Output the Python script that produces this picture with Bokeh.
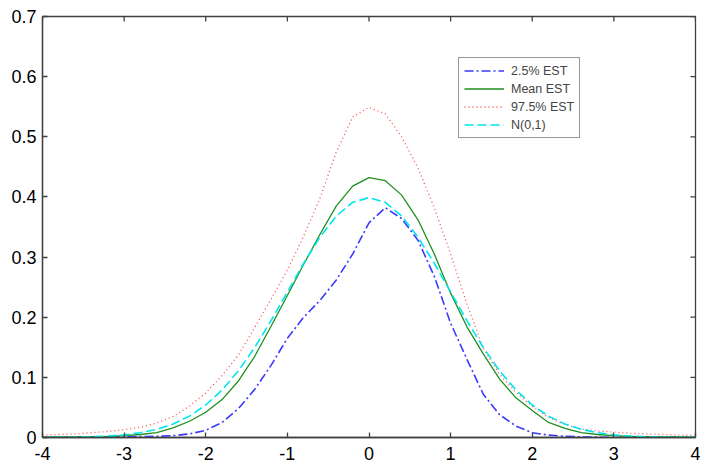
from bokeh.plotting import figure
from bokeh.models import FixedTicker, Range1d
from bokeh.embed import file_html
from bokeh.resources import INLINE

x_grid = [-4.0, -3.8, -3.6, -3.4, -3.2, -3.0, -2.8, -2.6, -2.4, -2.2, -2.0,
          -1.8, -1.6, -1.4, -1.2, -1.0, -0.8, -0.6, -0.4, -0.2, 0.0,
          0.2, 0.4, 0.6, 0.8, 1.0, 1.2, 1.4, 1.6, 1.8, 2.0,
          2.2, 2.4, 2.6, 2.8, 3.0, 3.2, 3.4, 3.6, 3.8, 4.0]

est_025 = [0.0, 0.0, 0.0005, 0.0005, 0.001, 0.001, 0.0015, 0.002, 0.003, 0.006, 0.012,
           0.025, 0.048, 0.080, 0.120, 0.165, 0.200, 0.228, 0.262, 0.305, 0.357,
           0.382, 0.364, 0.328, 0.268, 0.190, 0.130, 0.072, 0.038, 0.019, 0.008,
           0.004, 0.002, 0.001, 0.0005, 0.0, 0.0, 0.0, 0.0, 0.0, 0.0]

est_mean = [0.0005, 0.0008, 0.001, 0.0015, 0.002, 0.003, 0.005, 0.008, 0.016, 0.027, 0.042,
            0.063, 0.094, 0.135, 0.185, 0.236, 0.288, 0.338, 0.385, 0.418, 0.432,
            0.427, 0.403, 0.362, 0.305, 0.240, 0.184, 0.139, 0.097, 0.066, 0.045,
            0.025, 0.015, 0.008, 0.005, 0.003, 0.002, 0.0015, 0.001, 0.0008, 0.0005]

est_975 = [0.004, 0.005, 0.006, 0.008, 0.010, 0.013, 0.017, 0.024, 0.035, 0.052, 0.074,
           0.103, 0.137, 0.183, 0.230, 0.278, 0.335, 0.398, 0.475, 0.533, 0.549,
           0.538, 0.500, 0.448, 0.382, 0.305, 0.222, 0.148, 0.105, 0.075, 0.052,
           0.033, 0.022, 0.014, 0.011, 0.009, 0.007, 0.006, 0.005, 0.004, 0.004]

normal_01 = [0.0001, 0.0003, 0.0006, 0.0012, 0.0024, 0.0044, 0.0079, 0.0136, 0.0224, 0.0355, 0.0540,
             0.0790, 0.1109, 0.1497, 0.1942, 0.2420, 0.2897, 0.3332, 0.3683, 0.3910, 0.3989,
             0.3910, 0.3683, 0.3332, 0.2897, 0.2420, 0.1942, 0.1497, 0.1109, 0.0790, 0.0540,
             0.0355, 0.0224, 0.0136, 0.0079, 0.0044, 0.0024, 0.0012, 0.0006, 0.0003, 0.0001]

x_ticks = [-4, -3, -2, -1, 0, 1, 2, 3, 4]
y_ticks = [0, 0.1, 0.2, 0.3, 0.4, 0.5, 0.6, 0.7]

FONT = "Liberation Sans"
AX = "#404040"
X0, X1, Y0, Y1 = -4, 4, 0, 0.7
FW, FH = 653, 421

p = figure(width=700, height=465, output_backend="svg", toolbar_location=None,
           x_range=Range1d(X0, X1), y_range=Range1d(Y0, Y1),
           frame_width=FW, frame_height=FH,
           min_border_left=42, min_border_top=16, min_border_right=5, min_border_bottom=28)
p.grid.visible = False
p.outline_line_color = AX
p.outline_line_width = 1.3
p.background_fill_color = "white"
p.border_fill_color = "white"

for ax in (p.xaxis[0], p.yaxis[0]):
    ax.major_tick_in = 5
    ax.major_tick_out = 0
    ax.minor_tick_in = 0
    ax.minor_tick_out = 0
    ax.axis_line_color = AX
    ax.axis_line_width = 1.3
    ax.major_tick_line_color = AX
    ax.major_tick_line_width = 1.3
    ax.major_label_text_font = FONT
    ax.major_label_text_font_size = "18px"
    ax.major_label_text_color = "black"

p.xaxis.ticker = FixedTicker(ticks=x_ticks)
p.yaxis.ticker = FixedTicker(ticks=y_ticks)
p.xaxis.major_label_overrides = {t: str(t) for t in x_ticks}
p.yaxis.major_label_overrides = {t: ("0" if t == 0 else f"{t:g}") for t in y_ticks}
p.xaxis.major_label_standoff = 9
p.yaxis.major_label_standoff = 6

# inward ticks on top and right edges of the box (length 5 px)
tx = 5 * (X1 - X0) / FW
ty = 5 * (Y1 - Y0) / FH
p.segment(x0=x_ticks, y0=[Y1] * len(x_ticks), x1=x_ticks, y1=[Y1 - ty] * len(x_ticks),
          line_color=AX, line_width=1.3)
p.segment(x0=[X1] * len(y_ticks), y0=y_ticks, x1=[X1 - tx] * len(y_ticks), y1=y_ticks,
          line_color=AX, line_width=1.3)

p.line(x_grid, est_025, line_color="#3a3aff", line_width=1.6, line_dash="9 3 2 3",
       legend_label="2.5% EST")
p.line(x_grid, est_mean, line_color="#1f8f1f", line_width=1.3,
       legend_label="Mean EST")
p.line(x_grid, est_975, line_color="#ff4a4a", line_width=1.3, line_dash="1 3",
       legend_label="97.5% EST")
p.line(x_grid, normal_01, line_color="#00e5ee", line_width=1.6, line_dash="9 4",
       legend_label="N(0,1)")

lg = p.legend[0]
lg.location = (416, 299)
lg.border_line_color = "#303030"
lg.border_line_width = 1
lg.background_fill_color = "white"
lg.background_fill_alpha = 1
lg.label_text_font = FONT
lg.label_text_font_size = "12.5px"
lg.glyph_width = 40
lg.glyph_height = 15
lg.label_height = 15
lg.spacing = 3
lg.padding = 5
lg.margin = 0
lg.label_standoff = 7

open("out.html", "w").write(file_html(p, INLINE))
